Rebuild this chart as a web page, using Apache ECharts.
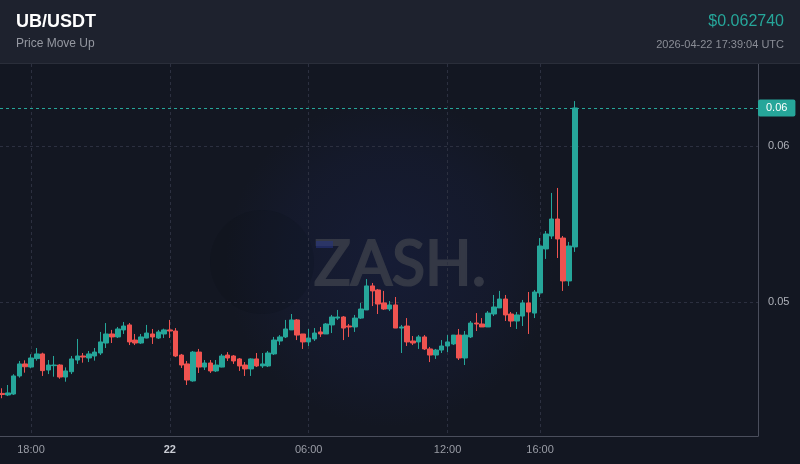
<!DOCTYPE html>
<html>
<head>
<meta charset="utf-8">
<script src="https://cdn.jsdelivr.net/npm/echarts@6/dist/echarts.min.js"></script>
<style>
html,body{margin:0;padding:0;background:#131722;}
#c{width:800px;height:464px;}
</style>
</head>
<body>
<div id="c"></div>
<script>
// 15-minute candles, first candle opens 2026-04-21 16:45 UTC
const startTime = Date.UTC(2026, 3, 21, 16, 45);
const stepMs = 15 * 60 * 1000;

const opens = [
0.04414,0.04404,0.04410,0.04526,0.04603,0.04583,0.04637,0.04667,0.04564,0.04592,
0.04596,0.04519,0.04553,0.04628,0.04654,0.04641,0.04654,0.04673,0.04737,0.04795,
0.04776,0.04821,0.04853,0.04756,0.04737,0.04769,0.04795,0.04769,0.04795,0.04821,
0.04814,0.04660,0.04603,0.04494,0.04679,0.04583,0.04609,0.04558,0.04583,0.04660,
0.04654,0.04635,0.04596,0.04571,0.04635,0.04590,0.04590,0.04667,0.04750,0.04776,
0.04821,0.04885,0.04795,0.04744,0.04763,0.04808,0.04795,0.04853,0.04897,0.04904,
0.04846,0.04840,0.04897,0.04949,0.05103,0.05077,0.04994,0.04955,0.04981,0.04833,
0.04846,0.04750,0.04744,0.04776,0.04699,0.04660,0.04692,0.04718,0.04731,0.04788,
0.04641,0.04776,0.04865,0.04859,0.04840,0.04923,0.04962,0.05019,0.04923,0.04878,
0.04910,0.04994,0.04929,0.05058,0.05340,0.05423,0.05532,0.05410,0.05135,0.05353
];
const closes = [
0.04407,0.04417,0.04526,0.04603,0.04585,0.04641,0.04667,0.04560,0.04596,0.04596,
0.04519,0.04558,0.04635,0.04654,0.04647,0.04667,0.04679,0.04744,0.04795,0.04776,
0.04827,0.04846,0.04744,0.04737,0.04776,0.04801,0.04776,0.04808,0.04821,0.04814,
0.04654,0.04596,0.04500,0.04679,0.04583,0.04609,0.04558,0.04596,0.04654,0.04641,
0.04622,0.04590,0.04571,0.04635,0.04590,0.04603,0.04673,0.04756,0.04776,0.04827,
0.04885,0.04788,0.04744,0.04769,0.04801,0.04795,0.04859,0.04904,0.04904,0.04833,
0.04840,0.04897,0.04955,0.05103,0.05071,0.04987,0.04955,0.04981,0.04833,0.04840,
0.04744,0.04737,0.04776,0.04699,0.04660,0.04692,0.04718,0.04744,0.04788,0.04641,
0.04788,0.04865,0.04859,0.04840,0.04929,0.04968,0.05019,0.04917,0.04878,0.04917,
0.04994,0.04936,0.05064,0.05359,0.05436,0.05532,0.05404,0.05135,0.05359,0.06244
];
const lows = [
0.04383,0.04397,0.04404,0.04515,0.04547,0.04575,0.04624,0.04526,0.04538,0.04521,
0.04508,0.04489,0.04538,0.04603,0.04611,0.04615,0.04624,0.04660,0.04705,0.04737,
0.04769,0.04795,0.04724,0.04724,0.04731,0.04767,0.04731,0.04763,0.04769,0.04769,
0.04647,0.04577,0.04468,0.04489,0.04545,0.04564,0.04545,0.04551,0.04581,0.04622,
0.04603,0.04558,0.04526,0.04526,0.04583,0.04577,0.04583,0.04660,0.04724,0.04769,
0.04821,0.04756,0.04699,0.04718,0.04750,0.04776,0.04795,0.04801,0.04885,0.04756,
0.04776,0.04808,0.04891,0.04949,0.04974,0.04923,0.04949,0.04942,0.04833,0.04673,
0.04718,0.04724,0.04699,0.04692,0.04615,0.04635,0.04673,0.04679,0.04724,0.04628,
0.04596,0.04769,0.04814,0.04840,0.04840,0.04910,0.04962,0.04878,0.04840,0.04827,
0.04846,0.04795,0.04897,0.05032,0.05276,0.05404,0.05282,0.05071,0.05103,0.05321
];
const highs = [
0.04447,0.04468,0.04537,0.04622,0.04626,0.04665,0.04705,0.04675,0.04628,0.04654,
0.04601,0.04581,0.04654,0.04763,0.04673,0.04686,0.04705,0.04808,0.04865,0.04821,
0.04840,0.04872,0.04865,0.04795,0.04795,0.04853,0.04827,0.04821,0.04829,0.04885,
0.04833,0.04667,0.04622,0.04686,0.04699,0.04628,0.04628,0.04628,0.04667,0.04679,
0.04660,0.04641,0.04615,0.04639,0.04673,0.04673,0.04686,0.04776,0.04788,0.04885,
0.04923,0.04891,0.04795,0.04827,0.04833,0.04840,0.04865,0.04917,0.04949,0.04910,
0.04859,0.04917,0.04994,0.05147,0.05122,0.05083,0.05071,0.05006,0.05032,0.04853,
0.04897,0.04782,0.04788,0.04788,0.04712,0.04699,0.04756,0.04788,0.04788,0.04827,
0.04814,0.04878,0.04929,0.04897,0.04942,0.05045,0.05071,0.05045,0.04936,0.04936,
0.05013,0.05064,0.05077,0.05410,0.05455,0.05699,0.05731,0.05423,0.05385,0.06288
];

const yTicks = [0.05, 0.06];
const xTickTimes = [
  Date.UTC(2026, 3, 21, 18, 0),
  Date.UTC(2026, 3, 22, 0, 0),
  Date.UTC(2026, 3, 22, 6, 0),
  Date.UTC(2026, 3, 22, 12, 0),
  Date.UTC(2026, 3, 22, 16, 0)
];
const xMin = Date.UTC(2026, 3, 21, 16, 39, 36);
const xMax = Date.UTC(2026, 3, 23, 1, 25, 0);
const yMin = 0.04141, yMax = 0.065256;

const pairTitle = 'UB/USDT';
const subTitle = 'Price Move Up';
const priceText = '$0.062740';
const stampText = '2026-04-22 17:39:04 UTC';

const UP = '#26a69a', DOWN = '#ef5350';
const FONT = '"Liberation Sans", Arial, sans-serif';

const candles = opens.map((o, i) => [startTime + i * stepMs, o, closes[i], lows[i], highs[i]]);
const lastClose = closes[closes.length - 1];

function pad(n){ return (n < 10 ? '0' : '') + n; }

const chart = echarts.init(document.getElementById('c'), null, {renderer: 'canvas'});
chart.setOption({
  backgroundColor: '#131722',
  animation: false,
  textStyle: {fontFamily: FONT},
  grid: {left: 0, right: 42, top: 64, bottom: 28, containLabel: false},
  xAxis: {
    type: 'value',
    min: xMin,
    max: xMax,
    axisLine: {show: true, lineStyle: {color: '#4a4e5c', width: 1}},
    axisTick: {show: false, customValues: xTickTimes},
    splitLine: {show: true, lineStyle: {color: '#2c3040', type: [3, 3], width: 1}},
    axisLabel: {
      customValues: xTickTimes,
      color: '#9a9da6',
      fontSize: 11,
      fontFamily: FONT,
      margin: 8,
      formatter: function (v) {
        const d = new Date(v);
        if (d.getUTCHours() === 0 && d.getUTCMinutes() === 0) {
          return '{b|' + d.getUTCDate() + '}';
        }
        return pad(d.getUTCHours()) + ':' + pad(d.getUTCMinutes());
      },
      rich: {b: {fontWeight: 'bold', color: '#c9ccd4', fontSize: 11, fontFamily: FONT}}
    }
  },
  yAxis: {
    type: 'value',
    position: 'right',
    scale: true,
    min: yMin,
    max: yMax,
    axisLine: {show: true, lineStyle: {color: '#4a4e5c', width: 1}},
    axisTick: {show: false, customValues: yTicks},
    splitLine: {show: true, lineStyle: {color: '#2c3040', type: [3, 3], width: 1}},
    axisLabel: {
      customValues: yTicks,
      color: '#aeb1b9',
      fontSize: 11,
      fontFamily: FONT,
      margin: 10,
      formatter: v => v.toFixed(2)
    }
  },
  graphic: [
    {
      type: 'circle', z: 0, silent: true,
      shape: {cx: 390, cy: 262, r: 165},
      style: {
        fill: new echarts.graphic.RadialGradient(0.5, 0.5, 0.5, [
          {offset: 0, color: 'rgba(28,38,90,0.34)'},
          {offset: 0.65, color: 'rgba(28,38,90,0.17)'},
          {offset: 1, color: 'rgba(28,38,90,0)'}
        ])
      }
    },
    {
      type: 'circle', z: 0, silent: true,
      shape: {cx: 262, cy: 262, r: 52},
      style: {fill: 'rgba(10,12,20,0.15)'}
    },
    {
      type: 'text', z: 0, silent: true,
      x: 400, y: 265,
      style: {
        text: 'ZASH.',
        fill: '#343845',
        stroke: '#343845',
        lineWidth: 2.2,
        font: '400 61px Lato, "Open Sans", sans-serif',
        textAlign: 'center',
        textVerticalAlign: 'middle'
      }
    },
    {
      type: 'rect', z: 0, silent: true,
      shape: {x: 316, y: 241, width: 17, height: 7},
      style: {fill: 'rgba(38,52,125,0.6)'}
    },
    {
      type: 'rect', z: 100, silent: true,
      shape: {x: 0, y: 0, width: 800, height: 64},
      style: {fill: '#1e222e'}
    },
    {
      type: 'rect', z: 100, silent: true,
      shape: {x: 0, y: 63, width: 800, height: 1},
      style: {fill: '#2a2e3a'}
    },
    {
      type: 'text', z: 101, x: 16, y: 22,
      style: {text: pairTitle, fill: '#ffffff', font: 'bold 18px ' + FONT, textVerticalAlign: 'middle'}
    },
    {
      type: 'text', z: 101, x: 16, y: 44,
      style: {text: subTitle, fill: '#9598a1', font: '12px ' + FONT, textVerticalAlign: 'middle'}
    },
    {
      type: 'text', z: 101, x: 784, y: 22,
      style: {text: priceText, fill: UP, font: '16px ' + FONT, textAlign: 'right', textVerticalAlign: 'middle'}
    },
    {
      type: 'text', z: 101, x: 784, y: 45,
      style: {text: stampText, fill: '#8a8d96', font: '11px ' + FONT, textAlign: 'right', textVerticalAlign: 'middle'}
    }
  ],
  series: [{
    type: 'candlestick',
    barWidth: 5,
    data: candles,
    itemStyle: {
      color: UP, color0: DOWN,
      borderColor: UP, borderColor0: DOWN,
      borderColorDoji: UP,
      borderWidth: 1
    },
    markLine: {
      silent: true,
      precision: 6,
      symbol: ['none', 'none'],
      lineStyle: {color: UP, type: [3, 3], width: 1},
      label: {
        show: true,
        position: 'end',
        distance: 0,
        formatter: p => Number(p.value).toFixed(2),
        backgroundColor: UP,
        color: '#ffffff',
        fontSize: 11,
        fontFamily: FONT,
        padding: [3, 8, 3, 8],
        borderRadius: 2
      },
      data: [{yAxis: lastClose}]
    }
  }]
});
</script>
</body>
</html>
